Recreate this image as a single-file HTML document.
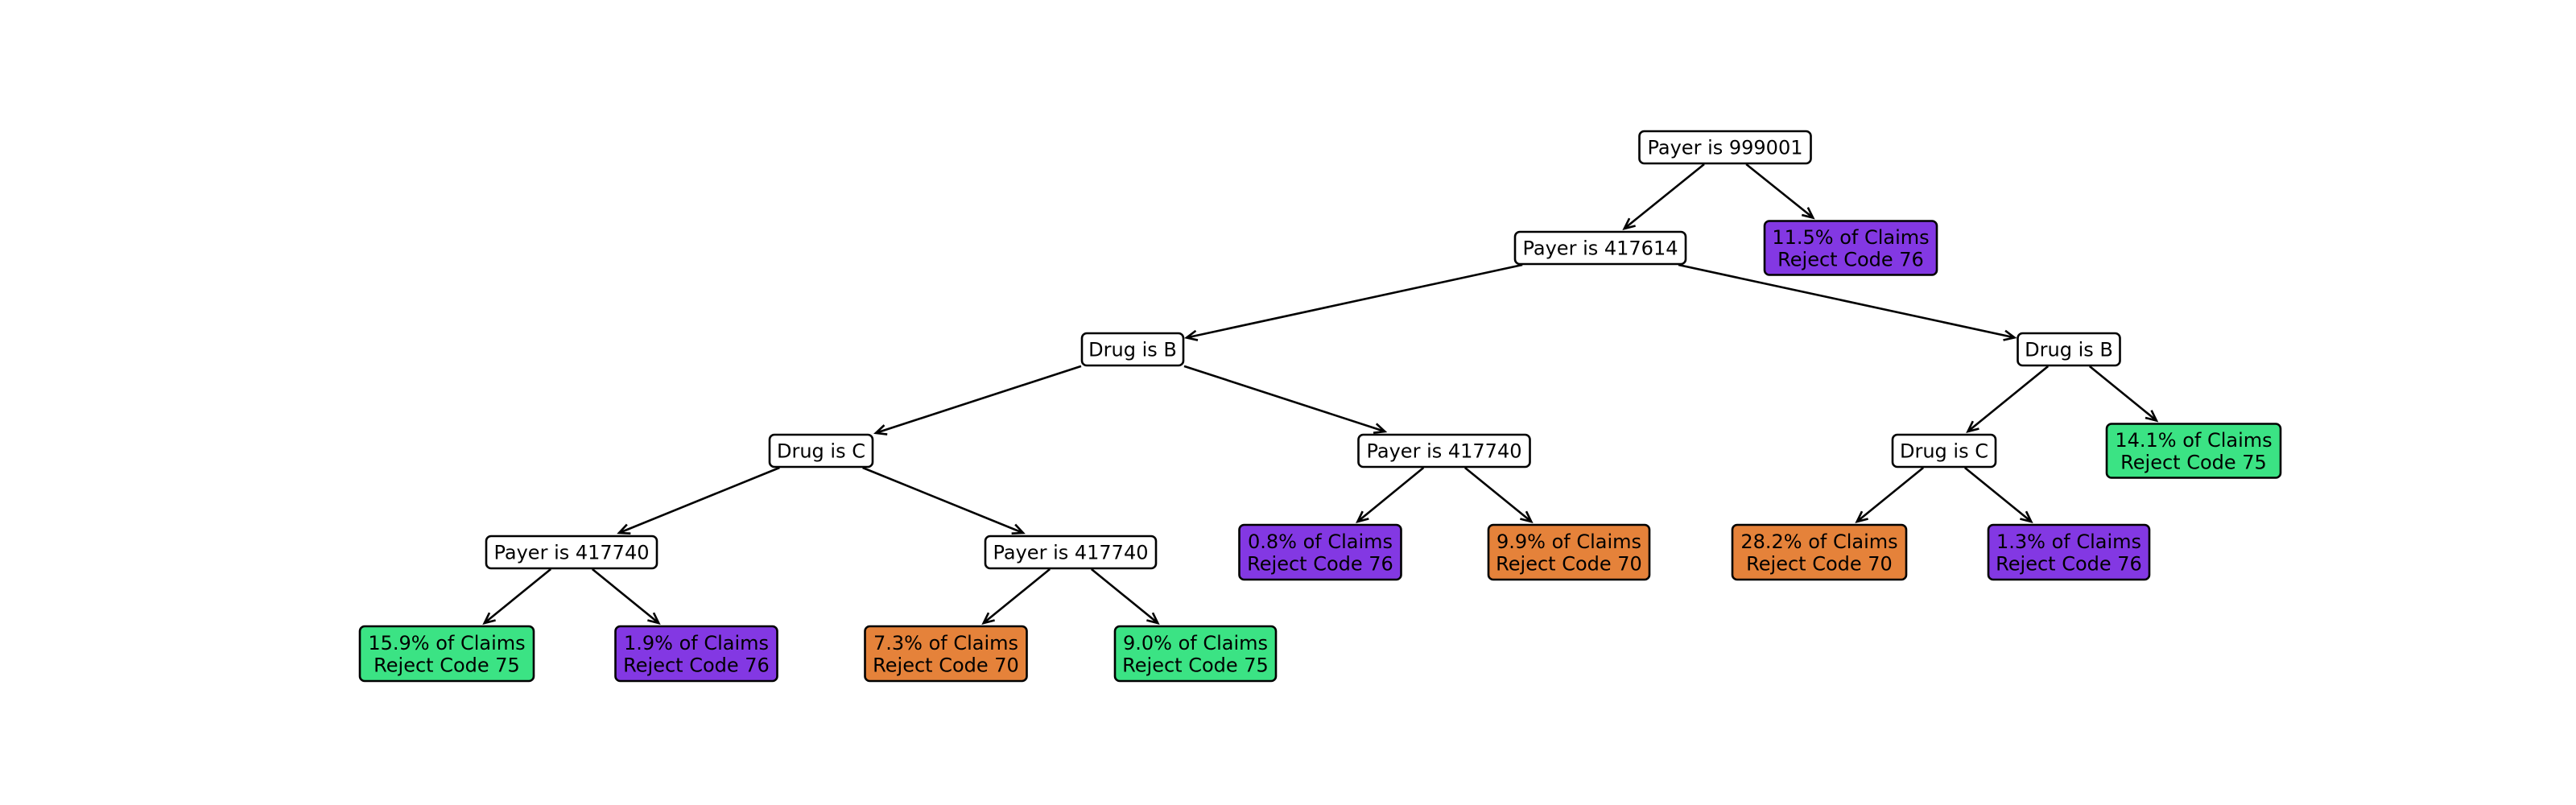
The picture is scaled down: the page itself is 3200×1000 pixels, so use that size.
<!DOCTYPE html>
<html><head><meta charset="utf-8"><style>
html,body{margin:0;padding:0;background:#fff;}
svg{display:block;}
text{font-family:"DejaVu Sans","Liberation Sans",sans-serif;font-size:24px;fill:#000;}
</style></head><body>
<svg id="s" width="3200" height="1000" viewBox="0 0 3200 1000" xmlns="http://www.w3.org/2000/svg">
<rect width="3200" height="1000" fill="#fff"/>
<g id="edges" stroke="#000" stroke-width="2.6" fill="none"></g>
<g id="nodes"></g>
</svg>
<script>
var P='#8338e3',G='#3be384',O='#e5823a';
var N={
r:[2143,183,213,40,'#fff',['Payer is 999001']],
a:[2299,308,214,67,P,['11.5% of Claims','Reject Code 76']],
b:[1988,308,212,40,'#fff',['Payer is 417614']],
c:[1407,434,126,40,'#fff',['Drug is B']],
d:[2570,434,127,40,'#fff',['Drug is B']],
e:[1020,560,128,40,'#fff',['Drug is C']],
f:[1794,560,213,40,'#fff',['Payer is 417740']],
g:[2415,560,128,40,'#fff',['Drug is C']],
h:[2725,560,216,67,G,['14.1% of Claims','Reject Code 75']],
i:[710,686,212,40,'#fff',['Payer is 417740']],
j:[1330,686,212,40,'#fff',['Payer is 417740']],
k:[1640,686,201,68,P,['0.8% of Claims','Reject Code 76']],
l:[1949,686,200,68,O,['9.9% of Claims','Reject Code 70']],
m:[2260,686,216,68,O,['28.2% of Claims','Reject Code 70']],
n:[2570,686,200,68,P,['1.3% of Claims','Reject Code 76']],
o:[555,812,216,68,G,['15.9% of Claims','Reject Code 75']],
p:[865,812,201,68,P,['1.9% of Claims','Reject Code 76']],
q:[1175,812,201,68,O,['7.3% of Claims','Reject Code 70']],
s:[1485,812,200,68,G,['9.0% of Claims','Reject Code 75']]
};
var E=[['r','b'],['r','a'],['b','c'],['b','d'],['c','e'],['c','f'],['d','g'],['d','h'],['e','i'],['e','j'],['f','k'],['f','l'],['g','m'],['g','n'],['i','o'],['i','p'],['j','q'],['j','s']];
var ns='http://www.w3.org/2000/svg';
function el(t,a,p){var e=document.createElementNS(ns,t);for(var k in a)e.setAttribute(k,a[k]);p.appendChild(e);return e;}
var eg=document.getElementById('edges'),ng=document.getElementById('nodes');
function tclip(n,dx,dy,pad){var hw=n[2]/2+pad,hh=n[3]/2+pad;var t1=dx?hw/Math.abs(dx):1e9,t2=dy?hh/Math.abs(dy):1e9;return Math.min(t1,t2);}
E.forEach(function(e){var a=N[e[0]],b=N[e[1]];var dx=b[0]-a[0],dy=b[1]-a[1];
var L=Math.sqrt(dx*dx+dy*dy);
var t0=tclip(a,dx,dy,1),t1=1-tclip(b,dx,dy,4);
var x0=a[0]+dx*t0,y0=a[1]+dy*t0,x1=a[0]+dx*t1,y1=a[1]+dy*t1;
el('line',{x1:x0,y1:y0,x2:x1,y2:y1},eg);
var ux=dx/L,uy=dy/L,al=13,aw=6;
var bx=x1-ux*al,by=y1-uy*al;
el('polyline',{points:(bx-uy*aw)+','+(by+ux*aw)+' '+x1+','+y1+' '+(bx+uy*aw)+','+(by-ux*aw)},eg);
});
for(var k in N){var n=N[k];
el('rect',{x:n[0]-n[2]/2,y:n[1]-n[3]/2,width:n[2],height:n[3],rx:6,ry:6,fill:n[4],stroke:'#000','stroke-width':2.6},ng);
var lines=n[5];
if(lines.length==1){var t=el('text',{x:n[0],y:n[1]+8.5,'text-anchor':'middle'},ng);t.textContent=lines[0];}
else{var t=el('text',{x:n[0],y:n[1]-5,'text-anchor':'middle'},ng);t.textContent=lines[0];
var t2=el('text',{x:n[0],y:n[1]+22.5,'text-anchor':'middle'},ng);t2.textContent=lines[1];}
}
</script>
</body></html>
